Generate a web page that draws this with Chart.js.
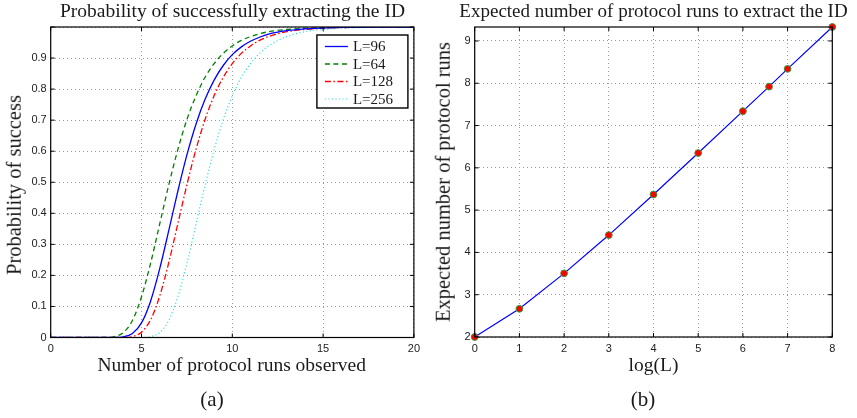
<!DOCTYPE html>
<html><head><meta charset="utf-8">
<script src="https://cdn.jsdelivr.net/npm/chart.js@4.4.1/dist/chart.umd.min.js"></script>
<style>
html,body{margin:0;padding:0;background:#fff;}
#wrap{position:relative;width:857px;height:418px;overflow:hidden;background:#fff;}
canvas{position:absolute;top:0;}
.t{position:absolute;font-family:"Liberation Serif","Times New Roman",serif;color:#1a1a1a;white-space:nowrap;line-height:1;}
.c{transform:translateX(-50%);}
.r{transform:translate(-50%,-50%) rotate(-90deg);}
</style></head><body>
<div id="wrap">
<canvas id="c1" width="428" height="418" style="left:0"></canvas>
<canvas id="c2" width="429" height="418" style="left:428px"></canvas>
<div class="t c" style="left:232.5px;top:1px;font-size:19.5px">Probability of successfully extracting the ID</div>
<div class="t c" style="left:653.5px;top:1.4px;font-size:19px">Expected number of protocol runs to extract the ID</div>
<div class="t c" style="left:231.7px;top:355.4px;font-size:19.5px">Number of protocol runs observed</div>
<div class="t c" style="left:653.5px;top:355.4px;font-size:19.5px">log(L)</div>
<div class="t c" style="left:212px;top:388.6px;font-size:21px">(a)</div>
<div class="t c" style="left:643px;top:388.6px;font-size:21px">(b)</div>
<div class="t r" style="left:14px;top:185px;font-size:20.5px">Probability of success</div>
<div class="t r" style="left:443px;top:182px;font-size:20.5px">Expected number of protocol runs</div>
</div>
<script>
// ---- data (a): probability of success vs. number of protocol runs observed
const runs     = [0, 1, 2, 3, 3.5, 4, 4.5, 5, 5.5, 6, 6.5, 7, 7.5, 8, 8.5, 9, 9.5, 10, 10.5, 11, 11.5, 12, 13, 14, 15, 16, 18, 20];
const probL96  = [0, 0, 0, 0, 0, 0.002, 0.013, 0.047, 0.117, 0.221, 0.344, 0.471, 0.588, 0.687, 0.767, 0.829, 0.876, 0.911, 0.936, 0.954, 0.967, 0.977, 0.988, 0.994, 0.997, 0.999, 1.0, 1.0];
const probL64  = [0, 0, 0, 0, 0.003, 0.016, 0.055, 0.131, 0.239, 0.365, 0.491, 0.605, 0.702, 0.778, 0.838, 0.882, 0.915, 0.939, 0.957, 0.969, 0.978, 0.985, 0.992, 0.996, 0.998, 0.999, 1.0, 1.0];
const probL128 = [0, 0, 0, 0, 0, 0, 0.003, 0.017, 0.057, 0.133, 0.241, 0.366, 0.492, 0.606, 0.702, 0.779, 0.838, 0.882, 0.915, 0.939, 0.957, 0.969, 0.985, 0.992, 0.996, 0.998, 1.0, 1.0];
const probL256 = [0, 0, 0, 0, 0, 0, 0, 0, 0.003, 0.016, 0.055, 0.131, 0.239, 0.365, 0.491, 0.605, 0.702, 0.778, 0.838, 0.882, 0.915, 0.939, 0.969, 0.985, 0.992, 0.996, 0.999, 1.0];
const seriesLabels = ['L=96', 'L=64', 'L=128', 'L=256'];
// ---- data (b): expected number of protocol runs vs log(L)
const logL = [0, 1, 2, 3, 4, 5, 6, 6.585, 7, 8];
const expectedRuns = [2.0, 2.667, 3.505, 4.41, 5.37, 6.35, 7.34, 7.92, 8.34, 9.33];

function pts(xs, ys){ return xs.map((x,i)=>({x:x, y:ys[i]})); }

const tickFont = {family:'"Liberation Sans", Arial, sans-serif', size:11};

const framePlugin = {
  id:'frame',
  afterDatasetsDraw(chart){
    const ctx = chart.ctx, a = chart.chartArea, x = chart.scales.x, y = chart.scales.y;
    ctx.save();
    ctx.setLineDash([]);
    ctx.strokeStyle = '#000';
    ctx.lineWidth = 1.2;
    ctx.strokeRect(a.left, a.top, a.right - a.left, a.bottom - a.top);
    const L = 4;
    ctx.lineWidth = 1;
    ctx.beginPath();
    x.ticks.forEach(t => { const p = x.getPixelForValue(t.value);
      ctx.moveTo(p, a.bottom); ctx.lineTo(p, a.bottom - L);
      ctx.moveTo(p, a.top); ctx.lineTo(p, a.top + L); });
    y.ticks.forEach(t => { const p = y.getPixelForValue(t.value);
      ctx.moveTo(a.left, p); ctx.lineTo(a.left + L, p);
      ctx.moveTo(a.right, p); ctx.lineTo(a.right - L, p); });
    ctx.stroke();
    ctx.restore();
  }
};

const boxLegend = {
  id:'boxLegend',
  afterDraw(chart){
    const ctx = chart.ctx, a = chart.chartArea;
    const bx = a.right - 97, by = a.top + 8, bw = 91, bh = 73;
    ctx.save();
    ctx.fillStyle = '#fff';
    ctx.fillRect(bx, by, bw, bh);
    ctx.strokeStyle = '#000'; ctx.lineWidth = 1.4; ctx.setLineDash([]);
    ctx.strokeRect(bx, by, bw, bh);
    ctx.font = '15px "Liberation Serif", "Times New Roman", serif';
    ctx.textBaseline = 'middle';
    chart.data.datasets.forEach((ds, i) => {
      const yy = by + 11.5 + i * 17.5;
      ctx.beginPath();
      ctx.strokeStyle = ds.borderColor; ctx.lineWidth = ds.borderWidth;
      ctx.setLineDash(ds.borderDash || []);
      ctx.moveTo(bx + 8, yy); ctx.lineTo(bx + 31, yy); ctx.stroke();
      ctx.setLineDash([]);
      ctx.fillStyle = '#1a1a1a';
      ctx.fillText(ds.label, bx + 36, yy + 1);
    });
    ctx.restore();
  }
};

function axisCfg(min, max, step, fmt, fit, pad){
  return {
    type:'linear', min:min, max:max,
    ticks:{stepSize:step, padding:pad, color:'#222', font:tickFont, maxRotation:0, autoSkip:false, includeBounds:false, callback:fmt},
    grid:{color:'#9c9c9c', lineWidth:1, drawTicks:false},
    border:{display:false, dash:[1,3]},
    afterFit:fit
  };
}

new Chart(document.getElementById('c1'), {
  type:'line',
  data:{datasets:[
    {label:seriesLabels[0], data:pts(runs, probL96),  borderColor:'#0000ff', borderWidth:1.3, borderDash:[], cubicInterpolationMode:'monotone'},
    {label:seriesLabels[1], data:pts(runs, probL64),  borderColor:'#008000', borderWidth:1.3, borderDash:[5,3.5], cubicInterpolationMode:'monotone'},
    {label:seriesLabels[2], data:pts(runs, probL128), borderColor:'#ff0000', borderWidth:1.3, borderDash:[6,2.5,1.5,2.5], cubicInterpolationMode:'monotone'},
    {label:seriesLabels[3], data:pts(runs, probL256), borderColor:'#33dede', borderWidth:1.2, borderDash:[1.2,2.3], cubicInterpolationMode:'monotone'}
  ]},
  options:{
    responsive:false, animation:false,
    layout:{padding:{left:0, top:27, right:14.1, bottom:60.5}},
    plugins:{legend:{display:false}, tooltip:{enabled:false}, title:{display:false}},
    elements:{point:{radius:0}},
    scales:{
      x:axisCfg(0, 20, 5, v => String(v), s => { s.height = 20; }, 5),
      y:axisCfg(0, 1, 0.1, v => (v > 0.95 ? '' : String(Math.round(v * 10) / 10)), s => { s.width = 50.7; }, 4)
    }
  },
  plugins:[framePlugin, boxLegend]
});

new Chart(document.getElementById('c2'), {
  type:'line',
  data:{datasets:[
    {label:'E[runs]', data:pts(logL, expectedRuns), borderColor:'#0000ff', borderWidth:1.2, tension:0, clip:false,
     pointRadius:3.4, pointBackgroundColor:'#ff0000', pointBorderColor:'#3a9a3a', pointBorderWidth:1}
  ]},
  options:{
    responsive:false, animation:false,
    layout:{padding:{left:0, top:27, right:24.7, bottom:61}},
    plugins:{legend:{display:false}, tooltip:{enabled:false}, title:{display:false}},
    scales:{
      x:axisCfg(0, 8, 1, v => String(v), s => { s.height = 20; }, 5),
      y:axisCfg(2, 9.33, 1, v => String(v), s => { s.width = 46.7; }, 4)
    }
  },
  plugins:[framePlugin]
});
</script>
</body></html>
